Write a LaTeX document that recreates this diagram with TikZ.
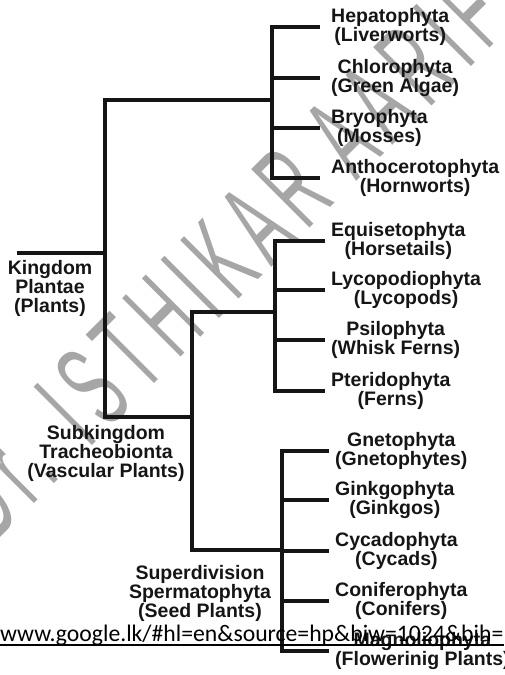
\documentclass[tikz,border=0pt]{standalone}
\usepackage{fontspec}
\setmainfont{Liberation Sans}
\newfontfamily\urlfont{Carlito}
\newfontfamily\markfont[LetterSpace=18]{Liberation Sans}
\usetikzlibrary{positioning}
\definecolor{Ink}{HTML}{151515}
\definecolor{Mark}{HTML}{A6A6A6}
\begin{document}
\begin{tikzpicture}[x=1pt,y=-1pt]
\tikzset{tree/.style={line width=4.5pt,draw=Ink,line join=miter},
  leaf/.style={anchor=west,align=center,inner xsep=6pt,inner ysep=0pt,text=Ink,font=\bfseries\fontsize{19.5}{19}\selectfont},
  wideleaf/.style={leaf,inner xsep=11pt},
  rank/.style={align=center,inner sep=0pt,text=Ink,font=\bfseries\fontsize{19.5}{19}\selectfont},
  watermark/.style={anchor=base west,inner sep=0pt,rotate=45,xscale=0.5,text=Mark,font=\markfont\fontsize{120}{120}\selectfont},
  urltext/.style={anchor=base west,inner sep=0pt,text=black,font=\urlfont\fontsize{23.7}{24}\selectfont}}
\useasboundingbox (0,0) rectangle (505,675);
% watermark
\node[watermark] (wm) at (-7,545) {Dr. ISTHIKAR AARIF};

% leaves
\node[wideleaf] (hep) at (320,27) {Hepatophyta\\(Liverworts)};
\node[wideleaf] (chl) at (320,78) {Chlorophyta\\(Green Algae)};
\node[wideleaf] (bry) at (320,128) {Bryophyta\\(Mosses)};
\node[wideleaf] (ant) at (320,178) {Anthocerotophyta\\(Hornworts)};
\node[leaf] (equ) at (325,241) {Equisetophyta\\(Horsetails)};
\node[leaf] (lyc) at (325,290) {Lycopodiophyta\\(Lycopods)};
\node[leaf] (psi) at (325,340) {Psilophyta\\(Whisk Ferns)};
\node[leaf] (pte) at (325,391) {Pteridophyta\\(Ferns)};
\node[leaf] (gne) at (329,451) {Gnetophyta\\(Gnetophytes)};
\node[leaf] (gin) at (329,500) {Ginkgophyta\\(Ginkgos)};
\node[leaf] (cyc) at (329,551) {Cycadophyta\\(Cycads)};
\node[leaf] (con) at (329,601) {Coniferophyta\\(Conifers)};
\node[leaf] (mag) at (329,651) {Magnoliophyta\\(Flowerinig Plants)};

% ranks
\node[rank] (plantae) at (50,288) {Kingdom\\Plantae\\(Plants)};
\node[rank] (vascular) at (106,453) {Subkingdom\\Tracheobionta\\(Vascular Plants)};
\node[rank] (seedpl) at (200,593) {Superdivision\\Spermatophyta\\(Seed Plants)};

% branch points
\coordinate (root) at (17,253);
\coordinate (kingdom) at (105,253);
\coordinate (nonvasc) at (272,100);
\coordinate (trach) at (192,417);
\coordinate (fern) at (275,312);
\coordinate (sperm) at (282,550);

\draw[tree] (root) -- (kingdom);
\draw[tree] (nonvasc) -| (kingdom) |- (trach);
\draw[tree] (hep.west) -| (nonvasc) |- (ant.west);
\draw[tree] (nonvasc |- chl.west) -- (chl.west);
\draw[tree] (nonvasc |- bry.west) -- (bry.west);
\draw[tree] (fern) -| (trach) |- (sperm);
\draw[tree] (equ.west) -| (fern) |- (pte.west);
\draw[tree] (fern |- lyc.west) -- (lyc.west);
\draw[tree] (fern |- psi.west) -- (psi.west);
\draw[tree] (gne.west) -| (sperm) |- (mag.west);
\draw[tree] (sperm |- gin.west) -- (gin.west);
\draw[tree] (sperm |- cyc.west) -- (cyc.west);
\draw[tree] (sperm |- con.west) -- (con.west);

% source line
\node[urltext] (url) at (0,641) {www.google.lk/\#hl=en\&source=hp\&biw=1024\&bih=};
\draw[line width=2pt] ([yshift=-4pt]url.base west) -- ([yshift=-4pt]url.base east);
\end{tikzpicture}
\end{document}
